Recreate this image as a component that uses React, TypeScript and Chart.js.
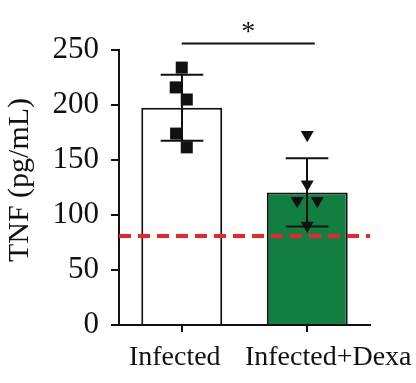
import React, { useEffect, useRef } from 'react';
import { Chart, registerables } from 'chart.js';

Chart.register(...registerables);

const categories = ['Infected', 'Infected+Dexa'];
const means = [197.5, 120.5];
const sds = [30, 31];
const infectedPoints = [234, 216, 205, 174, 161.5];
const infectedJitter = [0, -0.048, 0.04, -0.045, 0.04];
const dexaPoints = [173, 128, 113, 113, 90.5];
const dexaJitter = [0, 0, -0.08, 0.08, 0];
const threshold = 81;
const yMin = 0;
const yMax = 250;
const yStep = 50;
const yTitle = 'TNF (pg/mL)';
const sigFrom = 0;
const sigTo = 1.06;
const sigLevel = 256;
const sigLabel = '*';

const INK = '#111111';
const FONT = '"Liberation Serif", "Times New Roman", serif';
const LABEL_SHIFT = [-7, 21];

const overlay = {
  id: 'overlay',
  afterDatasetDraw(chart: any, args: any) {
    if (args.meta.type !== 'bar') return;
    const { ctx } = chart;
    const x = chart.scales.x2;
    const y = chart.scales.y;
    const catW = (chart.scales.x.right - chart.scales.x.left) / categories.length;
    const half = catW * 0.17;
    ctx.save();
    ctx.strokeStyle = INK;
    ctx.lineWidth = 2;
    means.forEach((m, i) => {
      const cx = Math.round(x.getPixelForValue(i));
      const t = y.getPixelForValue(m + sds[i]);
      const b = y.getPixelForValue(m - sds[i]);
      ctx.beginPath();
      ctx.moveTo(cx, t);
      ctx.lineTo(cx, b);
      ctx.moveTo(cx - half, t);
      ctx.lineTo(cx + half, t);
      ctx.moveTo(cx - half, b);
      ctx.lineTo(cx + half, b);
      ctx.stroke();
    });
    ctx.restore();
  },
  afterDatasetsDraw(chart: any) {
    const { ctx, chartArea } = chart;
    const x = chart.scales.x2;
    const y = chart.scales.y;
    ctx.save();
    // threshold line
    const ty = y.getPixelForValue(threshold);
    ctx.strokeStyle = '#e8262b';
    ctx.lineWidth = 4;
    ctx.setLineDash([12, 7]);
    ctx.beginPath();
    ctx.moveTo(chartArea.left, ty);
    ctx.lineTo(chartArea.right, ty);
    ctx.stroke();
    ctx.setLineDash([]);
    // significance bracket
    const sy = y.getPixelForValue(sigLevel);
    const x1 = x.getPixelForValue(sigFrom);
    const x2 = x.getPixelForValue(sigTo);
    ctx.strokeStyle = INK;
    ctx.lineWidth = 2;
    ctx.beginPath();
    ctx.moveTo(x1, sy);
    ctx.lineTo(x2, sy);
    ctx.stroke();
    ctx.fillStyle = INK;
    ctx.font = `28px ${FONT}`;
    ctx.textAlign = 'center';
    ctx.textBaseline = 'alphabetic';
    ctx.fillText(sigLabel, (x1 + x2) / 2, sy - 3);
    // category labels
    ctx.font = `28px ${FONT}`;
    categories.forEach((c, i) => {
      ctx.fillText(c, chart.scales.x.getPixelForValue(i) + LABEL_SHIFT[i], chart.scales.x.bottom - 18);
    });
    // y title
    ctx.translate(20, 180);
    ctx.rotate(-Math.PI / 2);
    ctx.font = `30px ${FONT}`;
    ctx.textBaseline = 'middle';
    ctx.fillText(yTitle, 0, 0);
    ctx.restore();
  },
};

export default function App() {
  const ref = useRef<HTMLCanvasElement>(null);
  useEffect(() => {
    if (!ref.current) return;
    const chart = new Chart(ref.current, {
      type: 'bar',
      data: {
        labels: categories,
        datasets: [
          {
            type: 'bar',
            data: means,
            backgroundColor: ['#ffffff', '#107f3f'],
            borderColor: INK,
            borderWidth: 2,
            barPercentage: 0.645,
            categoryPercentage: 1,
            grouped: false,
            order: 3,
          } as any,
          {
            type: 'scatter',
            xAxisID: 'x2',
            data: infectedPoints.map((v, i) => ({ x: 0 + infectedJitter[i], y: v })),
            pointStyle: 'rect',
            pointRadius: 8.5,
            backgroundColor: INK,
            borderWidth: 0,
            order: 1,
          } as any,
          {
            type: 'scatter',
            xAxisID: 'x2',
            data: dexaPoints.map((v, i) => ({ x: 1 + dexaJitter[i], y: v })),
            pointStyle: 'triangle',
            rotation: 180,
            pointRadius: 7.5,
            backgroundColor: INK,
            borderWidth: 0,
            order: 1,
          } as any,
        ],
      },
      options: {
        responsive: false,
        animation: false,
        events: [],
        layout: { padding: { top: 50, right: 46, left: 0, bottom: 0 } },
        plugins: { legend: { display: false }, tooltip: { enabled: false } },
        scales: {
          x: {
            type: 'category',
            offset: true,
            grid: { display: true, drawOnChartArea: false, offset: false, tickLength: 7, color: INK, lineWidth: 2 },
            border: { display: true, color: INK, width: 2 },
            ticks: { display: false, autoSkip: false, maxRotation: 0, minRotation: 0 },
            afterFit: (s: any) => { s.height = 58; },
          },
          x2: { type: 'linear', min: -0.5, max: 1.5, offset: false, display: false },
          y: {
            min: yMin,
            max: yMax,
            grid: { display: true, drawOnChartArea: false, tickLength: 8, color: INK, lineWidth: 2 },
            border: { display: true, color: INK, width: 2 },
            ticks: { stepSize: yStep, color: INK, font: { family: FONT, size: 31 }, padding: 12 },
            afterFit: (s: any) => { s.width = 119; },
          },
        },
      } as any,
      plugins: [overlay],
    });
    return () => chart.destroy();
  }, []);
  return (
    <canvas
      ref={ref}
      width={416}
      height={383}
      style={{ position: 'fixed', left: 0, top: 0, width: 416, height: 383, background: '#fff' }}
    />
  );
}
